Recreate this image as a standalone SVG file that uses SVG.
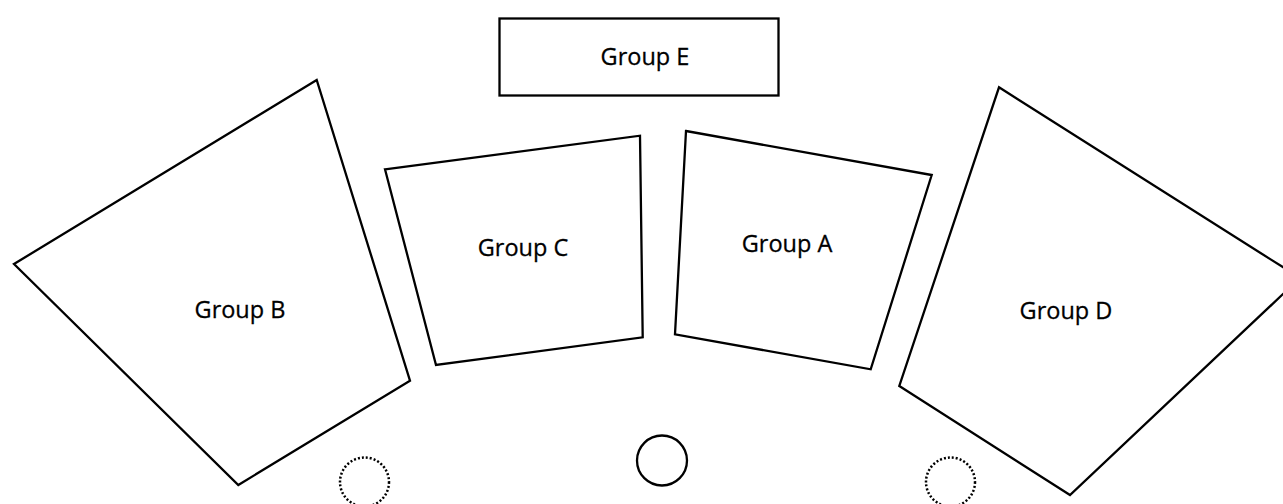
<svg xmlns="http://www.w3.org/2000/svg" width="1283" height="504" viewBox="0 0 1283 504">
<style>
.shape{fill:#fff;stroke:#000;stroke-width:2.3;stroke-linejoin:miter}
.lbl{font-family:"Open Sans","Noto Sans","Liberation Sans",sans-serif;font-size:23.5px;fill:#000;text-anchor:middle;stroke:#000;stroke-width:0.3}
.dot{fill:none;stroke:#000;stroke-width:2.5;stroke-dasharray:2 2}
</style>
<rect width="1283" height="504" fill="#fff"/>
<g id="group-e"><rect class="shape" x="499.5" y="18.5" width="279" height="77"/><text class="lbl" x="645" y="65">Group E</text></g>
<g id="group-b"><polygon class="shape" points="316.7,80 14,264 238.3,485 410,380.7"/><text class="lbl" x="240" y="318">Group B</text></g>
<g id="group-c"><polygon class="shape" points="385,169.3 640,135.7 642.7,337.3 436,365"/><text class="lbl" x="523" y="256">Group C</text></g>
<g id="group-a"><polygon class="shape" points="686,131 931.7,175 870.7,369.3 675,334.3"/><text class="lbl" x="787" y="252">Group A</text></g>
<g id="group-d"><polygon class="shape" points="999,87.3 1300,278 1070,495 899.3,386"/><text class="lbl" x="1066" y="319">Group D</text></g>
<g id="circle-left"><circle class="dot" cx="364.5" cy="482" r="24.5"/></g>
<g id="circle-center"><circle class="shape" cx="662" cy="460.5" r="25"/></g>
<g id="circle-right"><circle class="dot" cx="950.5" cy="482" r="24.5"/></g>
<g id="connectors"></g>
</svg>
